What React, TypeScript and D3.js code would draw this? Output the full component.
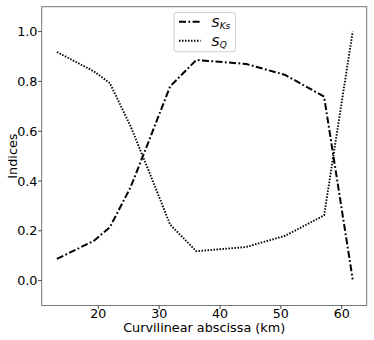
import React from "react";
import * as d3 from "d3";

const xValues = [13.2, 19.3, 21.9, 25.3, 28.3, 31.8, 36.1, 44.3, 50.7, 57.1, 61.8];
const sKs = [0.087, 0.16, 0.214, 0.375, 0.56, 0.78, 0.886, 0.87, 0.826, 0.739, 0.005];
const sQ = [0.918, 0.84, 0.793, 0.62, 0.44, 0.225, 0.118, 0.135, 0.18, 0.262, 1.0];
const xTicks = [20, 30, 40, 50, 60];
const yTicks = [0.0, 0.2, 0.4, 0.6, 0.8, 1.0];
const xLabel = "Curvilinear abscissa (km)";
const yLabel = "Indices";

const W = 374;
const H = 340;
const L = 41.7, R = 366.7, T = 6.7, B = 305.5;
const FONT = "DejaVu Sans, sans-serif";

export default function App() {
  const x = d3.scaleLinear().domain([10.7, 64.1]).range([L, R]);
  const y = d3.scaleLinear().domain([-0.1, 1.1]).range([B, T]);
  const line = d3
    .line<number>()
    .x((_, i) => x(xValues[i]))
    .y((d) => y(d));

  return (
    <svg
      width={W}
      height={H}
      style={{ position: "absolute", left: 0, top: 0, background: "#fff" }}
      fontFamily={FONT}
    >
      <rect x={0} y={0} width={W} height={H} fill="#fff" />
      {/* lines */}
      <path d={line(sKs) || ""} fill="none" stroke="#000" strokeWidth={2} strokeDasharray="7,2.4,1.8,2.4" />
      <path d={line(sQ) || ""} fill="none" stroke="#000" strokeWidth={1.9} strokeDasharray="1.5,1.5" />
      {/* frame */}
      <rect x={L} y={T} width={R - L} height={B - T} fill="none" stroke="#777" strokeWidth={1} />
      {/* x ticks */}
      {xTicks.map((t) => (
        <g key={"x" + t}>
          <line x1={x(t)} x2={x(t)} y1={B} y2={B + 3.5} stroke="#333" strokeWidth={0.9} />
          <text x={x(t)} y={317.6} fontSize={12.6} textAnchor="middle" fill="#000">
            {t}
          </text>
        </g>
      ))}
      {/* y ticks */}
      {yTicks.map((t) => (
        <g key={"y" + t}>
          <line x1={L - 3.5} x2={L} y1={y(t)} y2={y(t)} stroke="#333" strokeWidth={0.9} />
          <text x={37.5} y={y(t)} dy="0.36em" fontSize={12.8} textAnchor="end" fill="#000">
            {t.toFixed(1)}
          </text>
        </g>
      ))}
      {/* axis labels */}
      <text x={(L + R) / 2} y={332.4} fontSize={12.8} textAnchor="middle" fill="#000">
        {xLabel}
      </text>
      <text
        transform={`translate(16.5,${(T + B) / 2}) rotate(-90)`}
        fontSize={12.8}
        textAnchor="middle"
        fill="#000"
      >
        {yLabel}
      </text>
      {/* legend */}
      <rect x={174} y={12.5} width={61.5} height={39.2} rx={2.5} fill="#fff" stroke="#d0d0d0" strokeWidth={1} />
      <line x1={179} x2={200.5} y1={21.7} y2={21.7} stroke="#000" strokeWidth={2} strokeDasharray="7,2.4,1.8,2.4" />
      <line x1={179} x2={200.5} y1={40.7} y2={40.7} stroke="#000" strokeWidth={1.9} strokeDasharray="1.5,1.5" />
      <text x={211.5} y={27.3} fontSize={12.8} fontStyle="italic" fill="#000">
        S
        <tspan fontSize={9} dy={1.8}>Ks</tspan>
      </text>
      <text x={211.5} y={46.3} fontSize={12.8} fontStyle="italic" fill="#000">
        S
        <tspan fontSize={9} dy={1.8}>Q</tspan>
      </text>
    </svg>
  );
}
